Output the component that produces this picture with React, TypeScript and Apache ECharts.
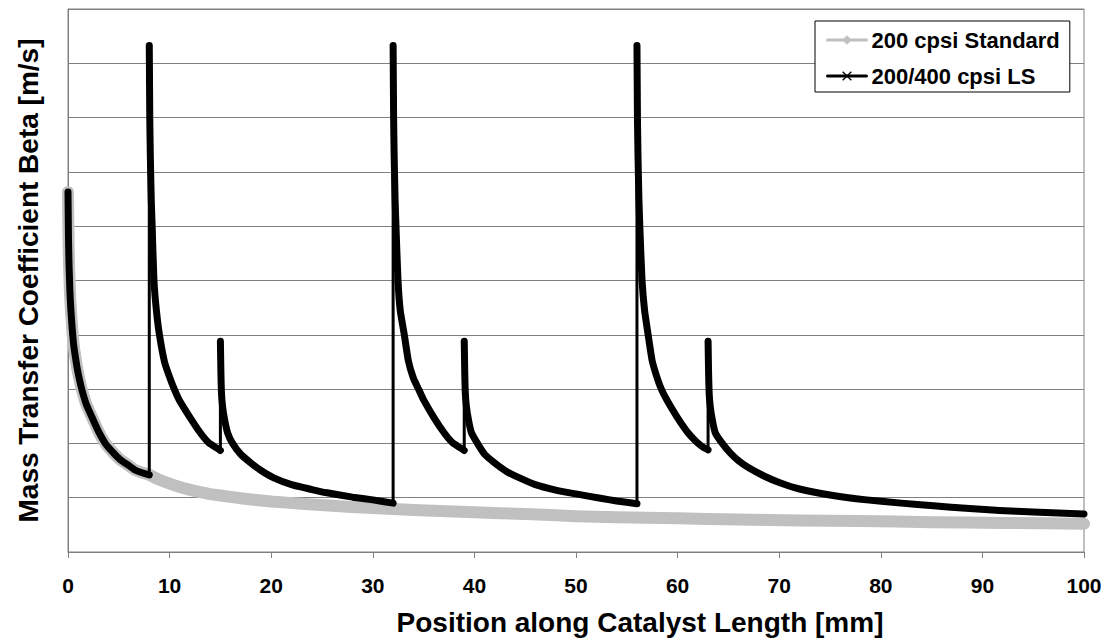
import React, { useEffect, useRef } from "react";
import * as echarts from "echarts";

const seriesNames = ["200 cpsi Standard", "200/400 cpsi LS"];
const xAxisTitle = "Position along Catalyst Length [mm]";
const yAxisTitle = "Mass Transfer Coefficient Beta [m/s]";
const xRange = [0, 100];
const yRange = [0, 10];

// 200 cpsi Standard (gray)
const standardPoints: [number, number][] = [
  [0, 6.63], [0.05, 5.76], [0.1, 5.3], [0.15, 5.01], [0.2, 4.75], [0.25, 4.57], [0.3, 4.41],
  [0.46, 4.0], [0.6, 3.75], [0.87, 3.42], [1.1, 3.2], [1.35, 3.0], [1.8, 2.72], [2.34, 2.49],
  [3.0, 2.22], [3.67, 2.0], [4.4, 1.84], [5.15, 1.7], [6.0, 1.59], [6.6, 1.51], [7.3, 1.46],
  [8.0, 1.42], [9.0, 1.33], [10.0, 1.26], [11.5, 1.17], [13.65, 1.08], [15.0, 1.04], [17.0, 0.99],
  [20.0, 0.93], [23.0, 0.89], [26.0, 0.85], [29.0, 0.82], [32.0, 0.79], [36.0, 0.76], [40.0, 0.73],
  [45.0, 0.7], [50.0, 0.66], [54.0, 0.64], [60.0, 0.62], [66.0, 0.6], [72.0, 0.58], [78.0, 0.57],
  [85.0, 0.55], [92.0, 0.535], [100.0, 0.52],
];

// 200/400 cpsi LS (black)
const lsPoints: [number, number][] = [
  [0, 6.63], [0.05, 5.76], [0.1, 5.3], [0.15, 5.01], [0.2, 4.75], [0.25, 4.57], [0.3, 4.41],
  [0.46, 4.0], [0.6, 3.75], [0.87, 3.42], [1.1, 3.2], [1.35, 3.0], [1.8, 2.72], [2.34, 2.49],
  [3.0, 2.22], [3.67, 2.0], [4.4, 1.84], [5.15, 1.7], [6.0, 1.59], [6.6, 1.51], [7.3, 1.46],
  [8.0, 1.42],
  [8.0, 9.33], [8.05, 7.98], [8.1, 7.32], [8.15, 6.86], [8.2, 6.45], [8.3, 5.9], [8.46, 5.0],
  [8.7, 4.45], [9.0, 4.0], [9.5, 3.5], [10.0, 3.22], [10.5, 2.98], [11.0, 2.78], [12.0, 2.48],
  [13.0, 2.2], [13.8, 2.02], [14.5, 1.93], [15.0, 1.87],
  [15.0, 3.88], [15.05, 3.3], [15.1, 2.95], [15.2, 2.7], [15.4, 2.45], [15.7, 2.2], [16.2, 2.0],
  [17.0, 1.8], [18.0, 1.64], [19.0, 1.5], [20.2, 1.37], [22.0, 1.24], [24.0, 1.15], [25.5, 1.09],
  [28.0, 1.01], [30.0, 0.96], [32.0, 0.9],
  [32.0, 9.33], [32.05, 7.98], [32.1, 7.32], [32.15, 6.86], [32.2, 6.45], [32.3, 5.9], [32.48, 5.0],
  [32.7, 4.45], [33.1, 4.0], [33.5, 3.52], [34.0, 3.2], [34.5, 3.0], [35.0, 2.8], [36.0, 2.48],
  [37.0, 2.2], [37.8, 2.02], [38.5, 1.93], [39.0, 1.87],
  [39.0, 3.88], [39.05, 3.3], [39.1, 2.95], [39.2, 2.7], [39.4, 2.45], [39.7, 2.2], [40.3, 2.0],
  [41.0, 1.8], [42.0, 1.64], [43.2, 1.48], [44.5, 1.36], [46.0, 1.24], [48.0, 1.14], [50.0, 1.07],
  [52.4, 0.99], [54.0, 0.94], [56.0, 0.89],
  [56.0, 9.33], [56.05, 7.98], [56.1, 7.32], [56.15, 6.86], [56.2, 6.45], [56.3, 5.9], [56.5, 5.0],
  [56.75, 4.45], [57.1, 4.0], [57.5, 3.52], [58.0, 3.2], [58.4, 3.0], [59.0, 2.78], [60.0, 2.47],
  [61.0, 2.2], [61.9, 2.02], [62.5, 1.93], [63.0, 1.88],
  [63.0, 3.88], [63.05, 3.3], [63.1, 2.95], [63.2, 2.7], [63.4, 2.45], [63.7, 2.2], [64.4, 2.0],
  [65.2, 1.82], [66.0, 1.68], [67.0, 1.55], [68.5, 1.4], [70.0, 1.28], [72.0, 1.16], [75.0, 1.05],
  [78.6, 0.96], [82.0, 0.9], [85.2, 0.85], [88.0, 0.81], [91.7, 0.765], [95.0, 0.735], [100.0, 0.7],
];

const FONT = '"Liberation Sans", Arial, Helvetica, sans-serif';
const X_SYMBOL = "path://M0,1L1,0L5,4L9,0L10,1L6,5L10,9L9,10L5,6L1,10L0,9L4,5Z";

function splitJumps(points: [number, number][]) {
  const band: (number | null)[][] = [];
  const jumps: (number | null)[][] = [];
  for (let i = 0; i < points.length; i++) {
    const p = points[i];
    const next = points[i + 1];
    band.push(p);
    if (next && next[0] === p[0]) {
      band.push([p[0], null]);
      jumps.push(p, next, [p[0], null]);
    }
  }
  return { band, jumps };
}

export default function App() {
  const ref = useRef<HTMLDivElement>(null);

  useEffect(() => {
    if (!ref.current) return;
    const chart = echarts.init(ref.current, undefined, { renderer: "svg" });
    const { band, jumps } = splitJumps(lsPoints);

    chart.setOption({
      animation: false,
      backgroundColor: "#ffffff",
      textStyle: { fontFamily: FONT },
      grid: {
        left: 68,
        right: 22,
        top: 9,
        bottom: 89,
        show: true,
        borderColor: "#808080",
        borderWidth: 1,
        backgroundColor: "transparent",
      },
      legend: {
        data: seriesNames,
        orient: "vertical",
        left: 815,
        top: 21,
        padding: [8, 10, 5, 11],
        itemGap: 14,
        itemWidth: 39,
        itemHeight: 12,
        backgroundColor: "#ffffff",
        borderColor: "#000000",
        borderWidth: 1,
        borderRadius: 0,
        selectedMode: false,
        lineStyle: { width: 3 },
        textStyle: {
          fontFamily: FONT,
          fontSize: 22,
          fontWeight: "bold",
          color: "#000000",
          lineHeight: 21,
        },
      },
      xAxis: {
        type: "value",
        min: xRange[0],
        max: xRange[1],
        interval: 10,
        name: xAxisTitle,
        nameLocation: "middle",
        nameGap: 56,
        nameTextStyle: {
          fontFamily: FONT,
          fontSize: 28,
          fontWeight: "bold",
          color: "#000000",
          padding: [0, 0, 0, 128],
        },
        axisLine: { show: true, lineStyle: { color: "#808080", width: 1 } },
        axisTick: { show: true, length: 6, lineStyle: { color: "#808080", width: 1 } },
        axisLabel: {
          fontFamily: FONT,
          fontSize: 21,
          fontWeight: "bold",
          color: "#000000",
          margin: 23,
        },
        splitLine: { show: false },
      },
      yAxis: {
        type: "value",
        min: yRange[0],
        max: yRange[1],
        interval: 1,
        name: yAxisTitle,
        nameLocation: "middle",
        nameRotate: 90,
        nameGap: 26,
        nameTextStyle: {
          fontFamily: FONT,
          fontSize: 28,
          fontWeight: "bold",
          color: "#000000",
        },
        axisLine: { show: true, lineStyle: { color: "#808080", width: 1 } },
        axisTick: { show: false },
        axisLabel: { show: false },
        splitLine: { show: true, lineStyle: { color: "#808080", width: 1 } },
      },
      series: [
        {
          name: seriesNames[0],
          type: "line",
          data: standardPoints,
          symbol: "diamond",
          showSymbol: false,
          smooth: 0.15,
          silent: true,
          z: 2,
          color: "#c0c0c0",
          lineStyle: { color: "#c0c0c0", width: 12, join: "round", cap: "round" },
          itemStyle: { color: "#c0c0c0" },
        },
        {
          name: seriesNames[1],
          type: "line",
          data: band,
          symbol: X_SYMBOL,
          showSymbol: false,
          smooth: 0.15,
          connectNulls: false,
          silent: true,
          z: 3,
          color: "#000000",
          lineStyle: { color: "#000000", width: 7, join: "round", cap: "round" },
          itemStyle: { color: "#000000" },
        },
        {
          name: seriesNames[1],
          type: "line",
          data: jumps,
          symbol: "none",
          showSymbol: false,
          connectNulls: false,
          silent: true,
          z: 4,
          color: "#000000",
          lineStyle: { color: "#000000", width: 3 },
        },
      ],
    });

    return () => chart.dispose();
  }, []);

  return (
    <div
      ref={ref}
      style={{ position: "fixed", left: 0, top: 0, width: 1106, height: 641, background: "#fff" }}
    />
  );
}
